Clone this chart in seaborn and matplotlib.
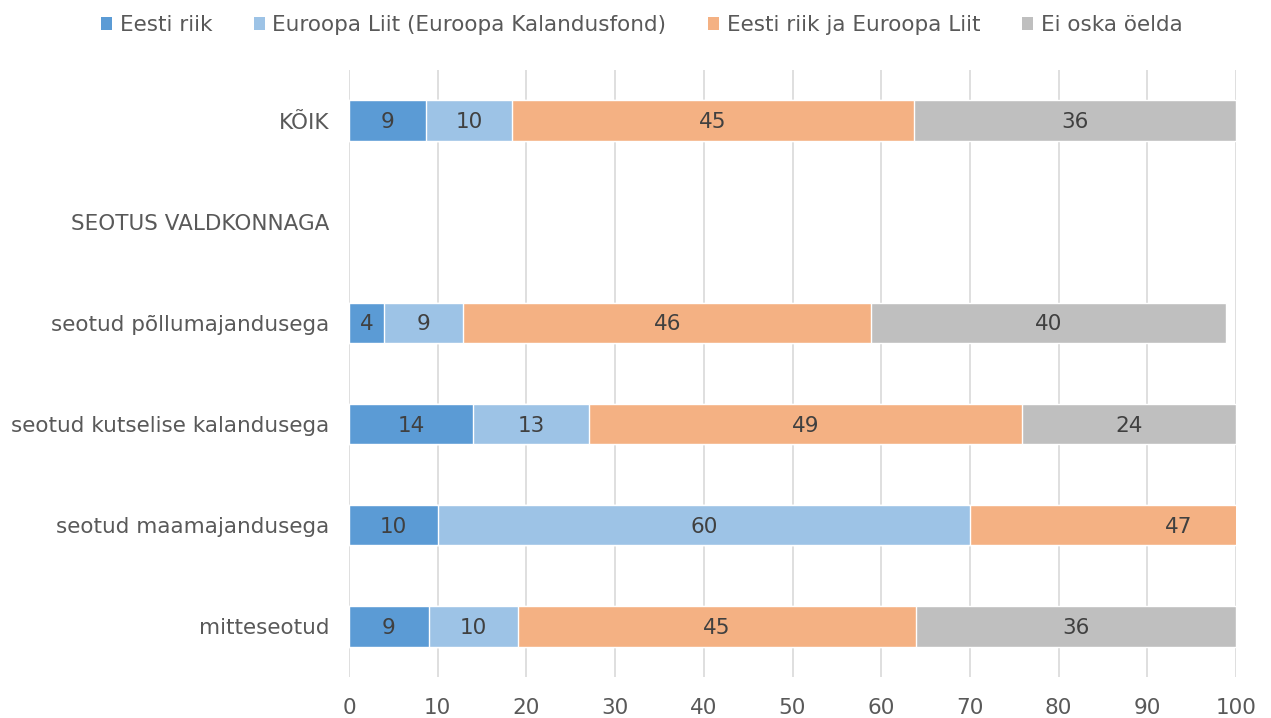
import matplotlib
matplotlib.use("Agg")
import matplotlib.pyplot as plt
from matplotlib.patches import Patch
import numpy as np
import pandas as pd
import seaborn as sns

categories = ["KÕIK", "SEOTUS VALDKONNAGA", "seotud põllumajandusega",
              "seotud kutselise kalandusega", "seotud maamajandusega", "mitteseotud"]
series_names = ["Eesti riik", "Euroopa Liit (Euroopa Kalandusfond)",
                "Eesti riik ja Euroopa Liit", "Ei oska öelda"]
eesti_riik = [8.7, np.nan, 4.0, 14.0, 10.0, 9.0]
euroopa_liit = [9.7, np.nan, 8.9, 13.1, 60.0, 10.0]
molemad = [45.3, np.nan, 46.0, 48.8, 47.0, 44.9]
ei_oska = [36.3, np.nan, 40.0, 24.1, 0.0, 36.1]
colors = ["#5B9BD5", "#9DC3E6", "#F4B183", "#BFBFBF"]

sns.set_theme(style="white")
plt.rcParams["font.family"] = ["DejaVu Sans"]
FS = 15.5

series = [eesti_riik, euroopa_liit, molemad, ei_oska]
df = pd.DataFrame({"category": categories})
for name, vals in zip(series_names, series):
    df[name] = vals
cum = df[series_names].cumsum(axis=1)

fig = plt.figure(figsize=(12.71, 7.18), dpi=100)
ax = fig.add_axes([349 / 1271, 1 - 677 / 718, (1236 - 349) / 1271, (677 - 70) / 718])

for i in reversed(range(len(series_names))):
    d = pd.DataFrame({"category": categories, "value": cum[series_names[i]]})
    sns.barplot(data=d, y="category", x="value", order=categories, orient="h",
                color=colors[i], saturation=1, width=0.4, edgecolor="white",
                linewidth=1.0, ax=ax, errorbar=None)

# labels centered in each segment
for i, name in enumerate(series_names):
    starts = cum[name] - df[name]
    for j, v in enumerate(df[name]):
        if pd.notna(v) and v > 0:
            ax.text(starts[j] + v / 2, j + 0.015, f"{v:.0f}", ha="center", va="center",
                    fontsize=FS, color="#404040")

ax.set_xlim(0, 100)
ax.set_ylim(5.5, -0.5)
ax.set_xticks(range(0, 101, 10))
ax.xaxis.grid(True, color="#D9D9D9", linewidth=1.2)
ax.set_axisbelow(True)
for s in ax.spines.values():
    s.set_visible(False)
ax.set_xlabel("")
ax.set_ylabel("")
ax.tick_params(axis="both", length=0, labelsize=FS, labelcolor="#595959")
ax.tick_params(axis="y", pad=14)
ax.tick_params(axis="x", pad=15)

handles = [Patch(facecolor=c, edgecolor="none") for c in colors]
fig.legend(handles, series_names, loc="upper center", bbox_to_anchor=(0.505, 1.006),
           ncol=4, frameon=False, fontsize=FS, labelcolor="#595959",
           handlelength=0.5, handleheight=0.5, handletextpad=0.35, columnspacing=1.95)

fig.savefig("out.png", dpi=100)
